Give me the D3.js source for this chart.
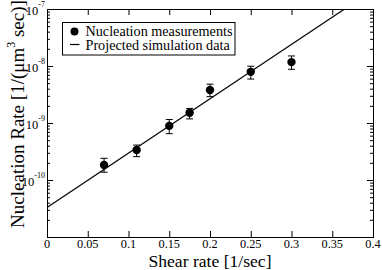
<!DOCTYPE html>
<html>
<head>
<meta charset="utf-8">
<script src="https://cdn.jsdelivr.net/npm/d3@7"></script>
<style>
  html, body { margin: 0; padding: 0; background: #fff; }
  svg { display: block; }
  svg text { font-family: "Liberation Serif", "DejaVu Serif", serif; fill: #000; }
</style>
</head>
<body>
<svg id="chart" width="382" height="270"></svg>
<script>
// ---- data ----
const shearRate = [0.07, 0.11, 0.15, 0.175, 0.2, 0.25, 0.3];
const nucleationRate = [1.83e-10, 3.36e-10, 8.9e-10, 1.51e-9, 3.8e-9, 7.9e-9, 1.17e-8];
const errLow = [1.37e-10, 2.57e-10, 6.5e-10, 1.18e-9, 2.9e-9, 5.9e-9, 8.75e-9];
const errHigh = [2.4e-10, 4.1e-10, 1.15e-9, 1.8e-9, 4.8e-9, 9.9e-9, 1.5e-8];
const simShear = [0, 0.4];
const simRate = [3.3e-11, 2.15e-7];
const xTicks = [0, 0.05, 0.1, 0.15, 0.2, 0.25, 0.3, 0.35, 0.4];
const xTickLabels = ["0", "0.05", "0.1", "0.15", "0.2", "0.25", "0.3", "0.35", "0.4"];
const yExponents = [-11, -10, -9, -8, -7];
const yTickLabels = ["", "-10", "-9", "-8", "-7"];
const legendLabels = ["Nucleation measurements", "Projected simulation data"];

// ---- layout ----
const FONT = "'Liberation Serif', 'DejaVu Serif', serif";
const L = 47, R = 373, T = 9, B = 237;
const svg = d3.select("#chart");
const x = d3.scaleLinear().domain([0, 0.4]).range([L, R]);
const y = d3.scaleLog().domain([1e-11, 1e-7]).range([B, T]);

// minor log ticks
const minorVals = [];
for (let e = -11; e < -7; e++) for (let m = 2; m <= 9; m++) minorVals.push(m * Math.pow(10, e));

const g = svg.append("g");

svg.append("defs").append("clipPath").attr("id", "clip")
  .append("rect").attr("x", L).attr("y", T).attr("width", R - L).attr("height", B - T);

const axB = d3.axisBottom(x).tickValues(xTicks).tickSize(-6).tickFormat("");
const axT = d3.axisTop(x).tickValues(xTicks).tickSize(-6).tickFormat("");
const yMajor = yExponents.map(e => Math.pow(10, e));
const axL = d3.axisLeft(y).tickValues(yMajor).tickSize(-6).tickFormat("");
const axR = d3.axisRight(y).tickValues(yMajor).tickSize(-6).tickFormat("");
const axLm = d3.axisLeft(y).tickValues(minorVals).tickSize(-3).tickFormat("");
const axRm = d3.axisRight(y).tickValues(minorVals).tickSize(-3).tickFormat("");

function styleAxis(sel) {
  sel.selectAll("path.domain").attr("stroke", "#000").attr("stroke-width", 1);
  sel.selectAll(".tick line").attr("stroke", "#000").attr("stroke-width", 1);
  sel.selectAll(".tick text").remove();
}
styleAxis(g.append("g").attr("transform", `translate(0,${B})`).call(axB));
styleAxis(g.append("g").attr("transform", `translate(0,${T})`).call(axT));
styleAxis(g.append("g").attr("transform", `translate(${L},0)`).call(axL));
styleAxis(g.append("g").attr("transform", `translate(${R},0)`).call(axR));
styleAxis(g.append("g").attr("transform", `translate(${L},0)`).call(axLm));
styleAxis(g.append("g").attr("transform", `translate(${R},0)`).call(axRm));

// x tick labels
g.selectAll("text.xl").data(xTicks).enter().append("text")
  .attr("class", "xl")
  .attr("font-family", FONT)
  .attr("x", d => x(d)).attr("y", 248)
  .attr("text-anchor", "middle")
  .attr("font-size", 12.3)
  .text((d, i) => xTickLabels[i]);

// y tick labels
yExponents.forEach((e, i) => {
  if (!yTickLabels[i]) return;
  const t = g.append("text")
    .attr("font-family", FONT)
    .attr("x", 45).attr("y", y(Math.pow(10, e)) + 6)
    .attr("text-anchor", "end")
    .attr("font-size", 12.5);
  t.append("tspan").text("10");
  t.append("tspan").attr("dy", -8).attr("font-size", 8).text(yTickLabels[i]);
});

// axis titles
g.append("text")
  .attr("font-family", FONT)
  .attr("x", (L + R) / 2).attr("y", 266.5)
  .attr("text-anchor", "middle").attr("font-size", 17.6)
  .text("Shear rate [1/sec]");

const yt = g.append("text")
  .attr("font-family", FONT)
  .attr("transform", "translate(24,114) rotate(-90)")
  .attr("text-anchor", "middle").attr("font-size", 19);
yt.append("tspan").text("Nucleation Rate [1/(μm");
yt.append("tspan").attr("dy", -9).attr("font-size", 12).text("3");
yt.append("tspan").attr("dy", 9).text(" sec)]");

// simulation line
const plot = g.append("g").attr("clip-path", "url(#clip)");
const simData = simShear.map((s, i) => [s, simRate[i]]);
plot.append("path")
  .datum(simData)
  .attr("fill", "none").attr("stroke", "#000").attr("stroke-width", 1.2)
  .attr("d", d3.line().x(d => x(d[0])).y(d => y(d[1])));

// error bars and points
const pts = shearRate.map((s, i) => ({ s, v: nucleationRate[i], lo: errLow[i], hi: errHigh[i] }));
const eb = plot.selectAll("g.eb").data(pts).enter().append("g").attr("class", "eb");
eb.append("line")
  .attr("x1", d => x(d.s)).attr("x2", d => x(d.s))
  .attr("y1", d => y(d.lo)).attr("y2", d => y(d.hi))
  .attr("stroke", "#000").attr("stroke-width", 1);
eb.append("line")
  .attr("x1", d => x(d.s) - 3.5).attr("x2", d => x(d.s) + 3.5)
  .attr("y1", d => y(d.lo)).attr("y2", d => y(d.lo))
  .attr("stroke", "#000").attr("stroke-width", 1);
eb.append("line")
  .attr("x1", d => x(d.s) - 3.5).attr("x2", d => x(d.s) + 3.5)
  .attr("y1", d => y(d.hi)).attr("y2", d => y(d.hi))
  .attr("stroke", "#000").attr("stroke-width", 1);
eb.append("circle")
  .attr("cx", d => x(d.s)).attr("cy", d => y(d.v)).attr("r", 4.2)
  .attr("fill", "#000");

// legend
const lg = g.append("g");
lg.append("rect").attr("x", 62.5).attr("y", 22.5).attr("width", 172.5).attr("height", 32.5)
  .attr("fill", "#fff").attr("stroke", "#000").attr("stroke-width", 1);
lg.append("circle").attr("cx", 74.5).attr("cy", 31.5).attr("r", 4).attr("fill", "#000");
lg.append("line").attr("x1", 70).attr("x2", 79.5).attr("y1", 44.5).attr("y2", 44.5)
  .attr("stroke", "#000").attr("stroke-width", 1.2);
lg.selectAll("text.lt").data(legendLabels).enter().append("text")
  .attr("class", "lt")
  .attr("font-family", FONT)
  .attr("x", 85.5).attr("y", (d, i) => 35.5 + i * 14.5)
  .attr("font-size", 14.2)
  .text(d => d);
</script>
</body>
</html>
